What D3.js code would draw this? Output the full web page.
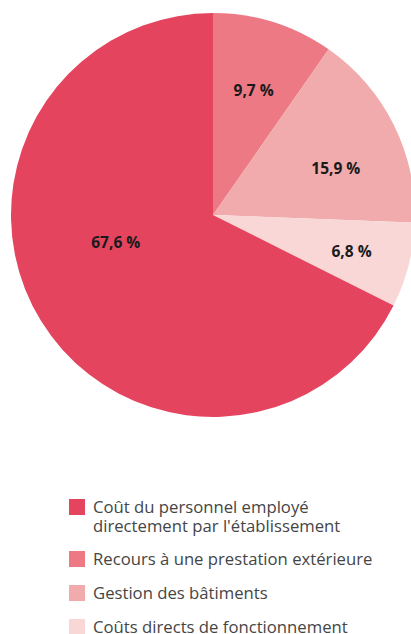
<!DOCTYPE html>
<html lang="fr">
<head>
<meta charset="utf-8">
<script src="https://cdn.jsdelivr.net/npm/d3@7"></script>
<style>
  html, body { margin: 0; padding: 0; background: #fff; overflow: hidden; }
  svg { display: block; }
</style>
</head>
<body>
<svg id="chart" width="411" height="634"></svg>
<script>
// Répartition des coûts (en %)
const categories = [
  "Recours à une prestation extérieure",
  "Gestion des bâtiments",
  "Coûts directs de fonctionnement",
  "Coût du personnel employé directement par l'établissement"
];
const values = [9.7, 15.9, 6.8, 67.6];
const colors = ["#ec7984", "#f1abac", "#f9d7d7", "#e5445f"];
const valueLabels = ["9,7 %", "15,9 %", "6,8 %", "67,6 %"];

// Legend order and line breaks
const legendOrder = [3, 0, 1, 2];
const legendLines = [
  ["Coût du personnel employé", "directement par l'établissement"],
  ["Recours à une prestation extérieure"],
  ["Gestion des bâtiments"],
  ["Coûts directs de fonctionnement"]
];

const svg = d3.select("#chart");
const cx = 213, cy = 215, R = 202;

const pie = d3.pie().sort(null).value(d => d)(values);
const arc = d3.arc().innerRadius(0).outerRadius(R);

// Label placement: radius as a fraction of R and an angular nudge (radians)
const labelRadius = [0.65, 0.65, 0.71, 0.5];
const labelNudge = [0.01, 0.1, 0.01, 0.28];

const g = svg.append("g").attr("transform", `translate(${cx},${cy})`);
g.selectAll("path.slice")
  .data(pie)
  .join("path")
  .attr("class", "slice")
  .attr("d", arc)
  .attr("fill", (d, i) => colors[i]);

g.selectAll("text.val")
  .data(pie)
  .join("text")
  .attr("class", "val")
  .attr("transform", (d, i) => {
    const a = (d.startAngle + d.endAngle) / 2 + labelNudge[i];
    const r = R * labelRadius[i];
    return `translate(${r * Math.sin(a)},${-r * Math.cos(a)})`;
  })
  .attr("text-anchor", "middle")
  .attr("dy", "0.35em")
  .style("font-family", "'Open Sans', sans-serif")
  .style("font-weight", 700)
  .style("font-size", "15.5px")
  .style("fill", "#1a1a1a")
  .text((d, i) => valueLabels[i]);

// Legend
const legend = svg.append("g").attr("transform", "translate(69,0)");
const rowTop = [499, 551, 585, 619];
legendOrder.forEach((idx, k) => {
  const row = legend.append("g").attr("transform", `translate(0,${rowTop[k]})`);
  row.append("rect")
    .attr("width", 16).attr("height", 16)
    .attr("fill", colors[idx]);
  const t = row.append("text")
    .attr("x", 24)
    .attr("y", 13.5)
    .style("font-family", "'Open Sans', sans-serif")
    .style("font-size", "16.7px")
    .style("fill", "#454545");
  legendLines[k].forEach((line, j) => {
    t.append("tspan").attr("x", 24).attr("dy", j === 0 ? 0 : 19).text(line);
  });
});
</script>
</body>
</html>
